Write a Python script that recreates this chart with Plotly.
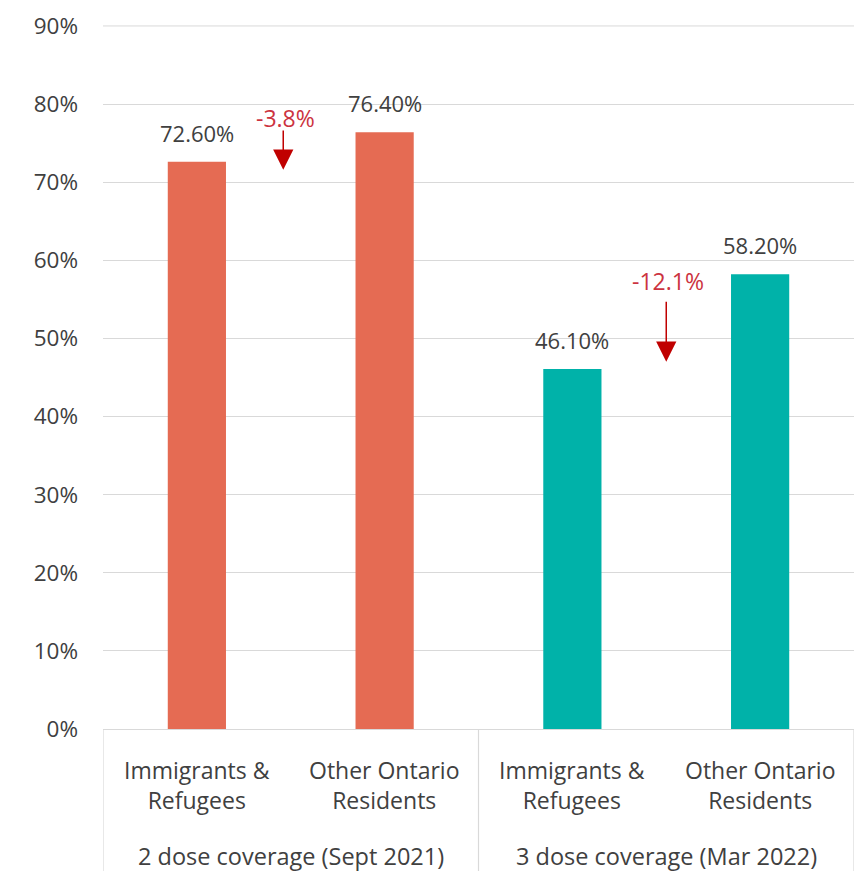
import plotly.graph_objects as go

# Coverage groups and populations
group_labels = ["2 dose coverage (Sept 2021)", "3 dose coverage (Mar 2022)"]
populations = ["Immigrants &<br>Refugees", "Other Ontario<br>Residents",
               "Immigrants &<br>Refugees", "Other Ontario<br>Residents"]
coverage = [72.6, 76.4, 46.1, 58.2]
bar_colors = ["#E56B53", "#E56B53", "#00B2A9", "#00B2A9"]

# Gap between the two populations in each group
gap_labels = ["-3.8%", "-12.1%"]
gap_x = [0.47, 2.51]
gap_text_y = [78.2, 57.3]
arrow_tail_y = [76.8, 54.9]
arrow_head_y = [71.6, 47.0]

tick_vals = [0, 10, 20, 30, 40, 50, 60, 70, 80, 90]
tick_text = [f"{v}%" for v in tick_vals]

FONT = "Open Sans"
TXT = "#404040"
LINE = "#D9D9D9"

positions = list(range(len(coverage)))

fig = go.Figure()
fig.add_trace(go.Bar(
    x=positions,
    y=coverage,
    marker=dict(color=bar_colors, line=dict(width=0)),
    width=0.31,
    hoverinfo="skip",
))

# Value labels above each bar
for px, v in zip(positions, coverage):
    fig.add_annotation(x=px, y=v, text=f"{v:.2f}%", showarrow=False,
                       yanchor="middle", yshift=29,
                       font=dict(family=FONT, size=22, color=TXT))

# Population labels under each bar
for px, lbl in zip(positions, populations):
    fig.add_annotation(x=px, y=-0.079, yref="paper", text=lbl, showarrow=False,
                       yanchor="middle", align="center",
                       font=dict(family=FONT, size=23, color=TXT))

# Group labels under each pair
for gi, lbl in enumerate(group_labels):
    fig.add_annotation(x=2 * gi + 0.5, y=-0.1805, yref="paper", text=lbl,
                       showarrow=False, yanchor="middle",
                       font=dict(family=FONT, size=23.5, color=TXT))

# Group dividers below the axis
for dx in [-0.5, 1.5, 3.5]:
    fig.add_shape(type="line", x0=dx, x1=dx, y0=0, y1=-0.21,
                  xref="x", yref="paper", line=dict(color=LINE, width=1.2))

# Top gridline at the end of the value range
fig.add_shape(type="line", x0=0, x1=1, y0=tick_vals[-1], y1=tick_vals[-1],
              xref="paper", yref="y", layer="below",
              line=dict(color=LINE, width=1))

# Difference callouts with down arrows
for lbl, gx, ty, t0, t1 in zip(gap_labels, gap_x, gap_text_y, arrow_tail_y, arrow_head_y):
    fig.add_annotation(x=gx, y=ty, text=lbl, showarrow=False,
                       font=dict(family=FONT, size=23, color="#CC3340"),
                       xref="x", yref="y")
    fig.add_annotation(x=gx - 0.01, y=t1, ax=gx - 0.01, ay=t0,
                       xref="x", yref="y", axref="x", ayref="y",
                       text="", showarrow=True, arrowhead=2, arrowsize=2.7,
                       arrowwidth=1.5, arrowcolor="#C00000")

fig.update_layout(
    width=864, height=871,
    margin=dict(l=103, r=10, t=19, b=142),
    plot_bgcolor="white", paper_bgcolor="white",
    showlegend=False,
    font=dict(family=FONT, size=21, color=TXT),
)
fig.update_yaxes(
    range=[0, 90.12], tickvals=tick_vals, ticktext=tick_text,
    showgrid=True, gridcolor=LINE, gridwidth=1,
    zeroline=False, showline=False, ticks="",
    tickfont=dict(family=FONT, size=22.5, color=TXT),
    ticklabelstandoff=24,
)
fig.update_xaxes(
    range=[-0.5, 3.5],
    showline=True, linecolor=LINE, linewidth=1.2,
    showgrid=False, zeroline=False, ticks="", showticklabels=False,
)

fig.write_html("out.html")
